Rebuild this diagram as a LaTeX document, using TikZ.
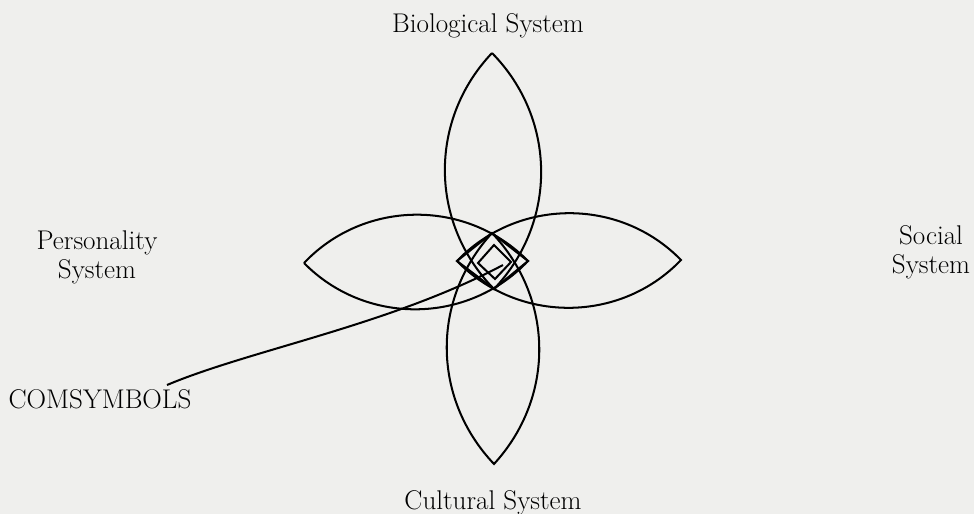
\documentclass[tikz,border=0pt]{standalone}
\usepackage{tikz}
\usetikzlibrary{positioning}
\definecolor{paper}{RGB}{239,239,237}
\tikzset{
  sysname/.style={font=\fontsize{15.4}{16.4}\selectfont, inner sep=0pt, align=center},
  petal/.style={line width=1.15pt, line join=miter},
}

\begin{document}
\begin{tikzpicture}[x=0.02cm, y=-0.02cm]
      \fill[paper] (0,0) rectangle (974,514);
      \useasboundingbox (0,0) rectangle (974,514);

      % the four system names
      \node[sysname, anchor=base] (bio) at (488,32) {Biological System};
      \node[sysname, anchor=base] (cult) at (493,509) {Cultural System};
      \node[sysname] (pers) at (97,257) {Personality\\System};
      \node[sysname] (soc) at (931,252) {Social\\System};
      \node[sysname, anchor=base] (com) at (100,408) {COMSYMBOLS};

      % petal tips
      \coordinate (nt) at (492,53);
      \coordinate (nb) at (494,289);
      \coordinate (st) at (492,233);
      \coordinate (sb) at (494,464);
      \coordinate (wl) at (304,263);
      \coordinate (wr) at (528,261);
      \coordinate (el) at (457,261);
      \coordinate (er) at (681,260);

      \draw[petal] (nt) to[bend left=44] (nb) to[bend left=44] (nt);
      \draw[petal] (st) to[bend left=43] (sb) to[bend left=43] (st);
      \draw[petal] (wl) to[bend left=46] (wr) to[bend left=46] (wl);
      \draw[petal] (el) to[bend left=46] (er) to[bend left=46] (el);

      % the two squares in the middle
      \draw[petal] (el) -- (st) -- (wr) -- (nb) -- cycle;
      \coordinate (it) at (494,245);
      \coordinate (ir) at (511,262);
      \coordinate (ib) at (495,279);
      \coordinate (il) at (478,263);
      \draw[petal] (il) -- (it) -- (ir) -- (ib) -- cycle;

      % leader
      \coordinate (tail) at (167,385);
      \coordinate (hub) at (503,265);
      \draw[petal] (tail) .. controls (250,350) and (390,325) .. (hub);
    \end{tikzpicture}
\end{document}
